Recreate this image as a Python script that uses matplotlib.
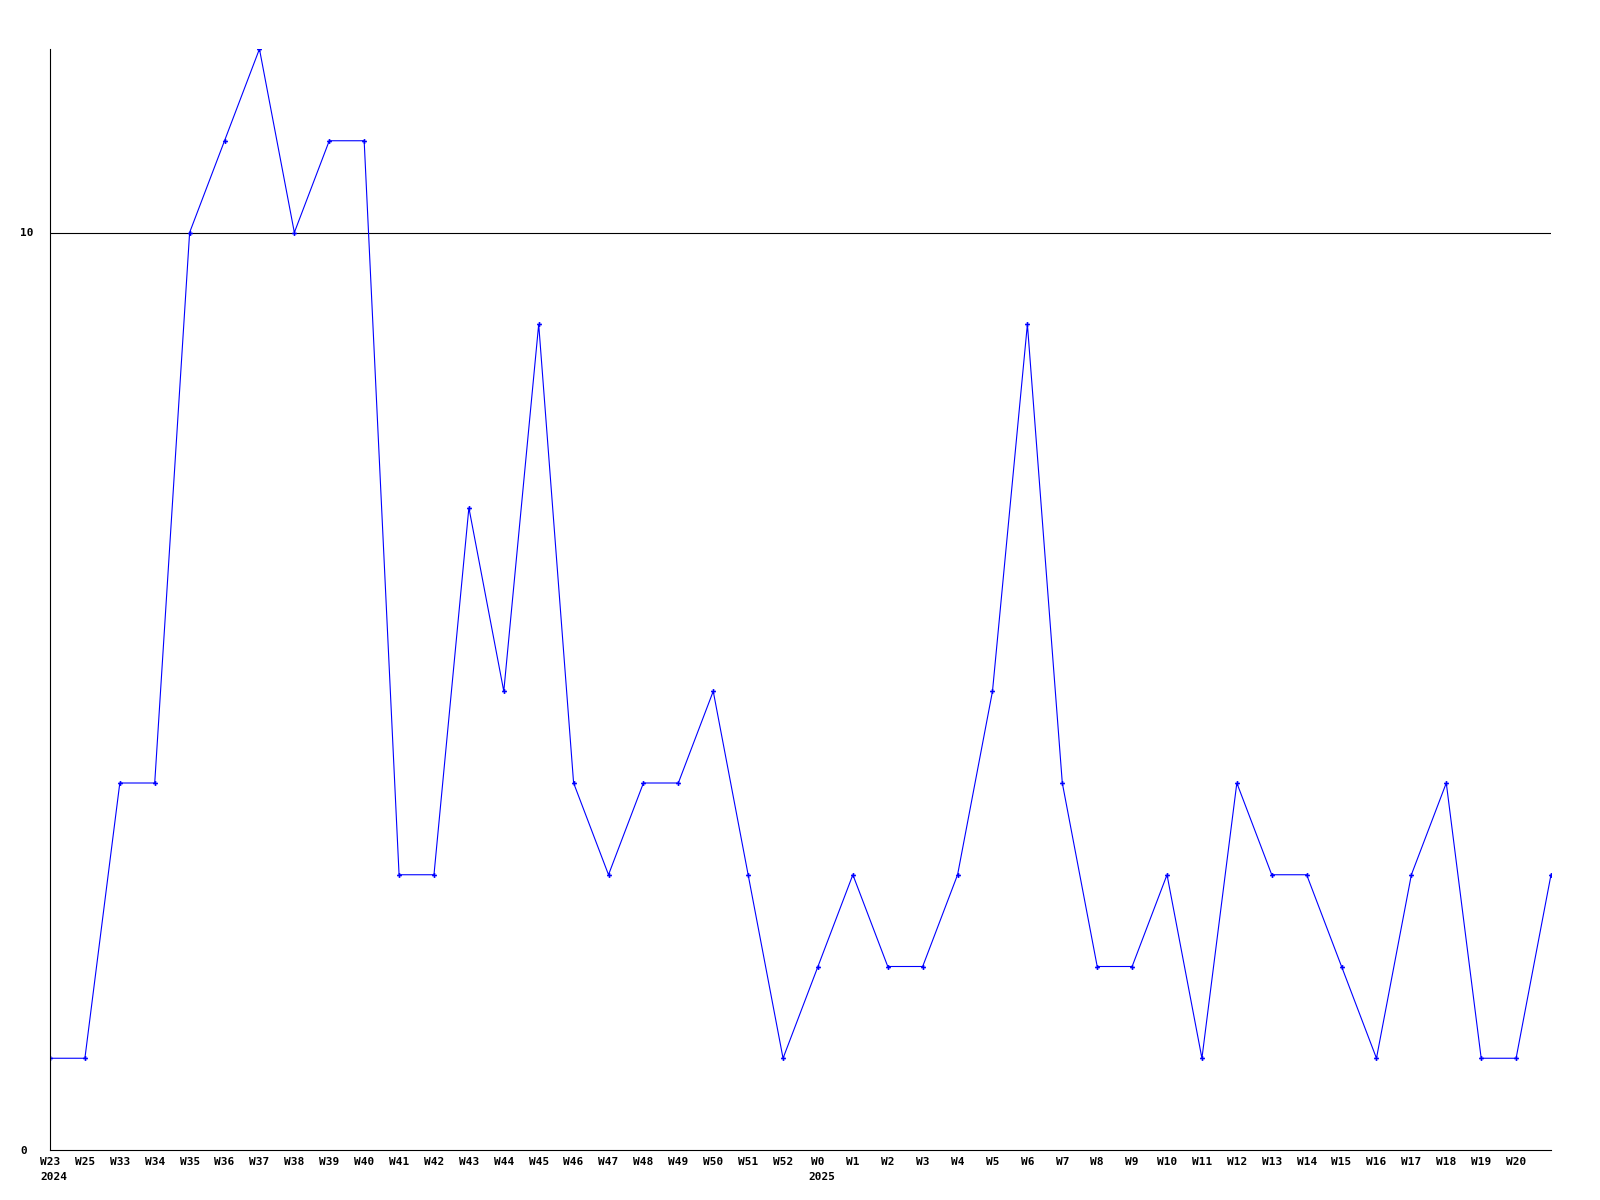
import matplotlib
matplotlib.use("Agg")
import matplotlib.pyplot as plt
from matplotlib.transforms import blended_transform_factory, offset_copy

week_labels = ["W23", "W25", "W33", "W34", "W35", "W36", "W37", "W38", "W39", "W40",
               "W41", "W42", "W43", "W44", "W45", "W46", "W47", "W48", "W49", "W50",
               "W51", "W52", "W0", "W1", "W2", "W3", "W4", "W5", "W6", "W7",
               "W8", "W9", "W10", "W11", "W12", "W13", "W14", "W15", "W16", "W17",
               "W18", "W19", "W20"]
values = [1, 1, 4, 4, 10, 11, 12, 10, 11, 11,
          3, 3, 7, 5, 9, 4, 3, 4, 4, 5,
          3, 1, 2, 3, 2, 2, 3, 5, 9, 4,
          2, 2, 3, 1, 4, 3, 3, 2, 1, 3,
          4, 1, 1, 3]
year_labels = {0: "2024", 22: "2025"}
ytick_values = [0, 10]
ref_line = 10

W, H = 1600, 1200
fig = plt.figure(figsize=(16, 12), dpi=100)
ax = fig.add_axes([50 / W, 1 - 1150 / H, (1551 - 50) / W, (1150 - 49) / H])

xs = list(range(len(values)))
ax.plot(xs, values, color=(0, 0, 1), lw=0.8, marker="P", markersize=3.5,
        markeredgewidth=0, markerfacecolor=(0, 0, 1), solid_joinstyle="miter")
ax.axhline(ref_line, color="black", lw=0.8, zorder=1)

ax.set_xlim(0, len(values) - 1)
ax.set_ylim(0, 12)

for s in ["top", "right"]:
    ax.spines[s].set_visible(False)
for s in ["left", "bottom"]:
    ax.spines[s].set_color("black")
    ax.spines[s].set_linewidth(0.8)

font = dict(family="DejaVu Sans Mono", weight="bold", size=8)

ax.set_xticks(range(len(week_labels)))
ax.set_xticklabels(week_labels, **font)
ax.tick_params(axis="x", length=0, pad=5)

ax.set_yticks(ytick_values)
ax.set_yticklabels([str(v) for v in ytick_values], **font)
ax.tick_params(axis="y", length=0, pad=21.6)
for lbl in ax.get_yticklabels():
    lbl.set_horizontalalignment("left")

trans = blended_transform_factory(ax.transData, ax.transAxes)
trans = offset_copy(trans, fig=fig, x=-10 / 100 * 72, y=-22 / 100 * 72, units="points")
for i, yl in year_labels.items():
    ax.text(i, 0, yl, transform=trans, ha="left", va="top", **font)

fig.savefig("out.png", dpi=100, facecolor="white")
